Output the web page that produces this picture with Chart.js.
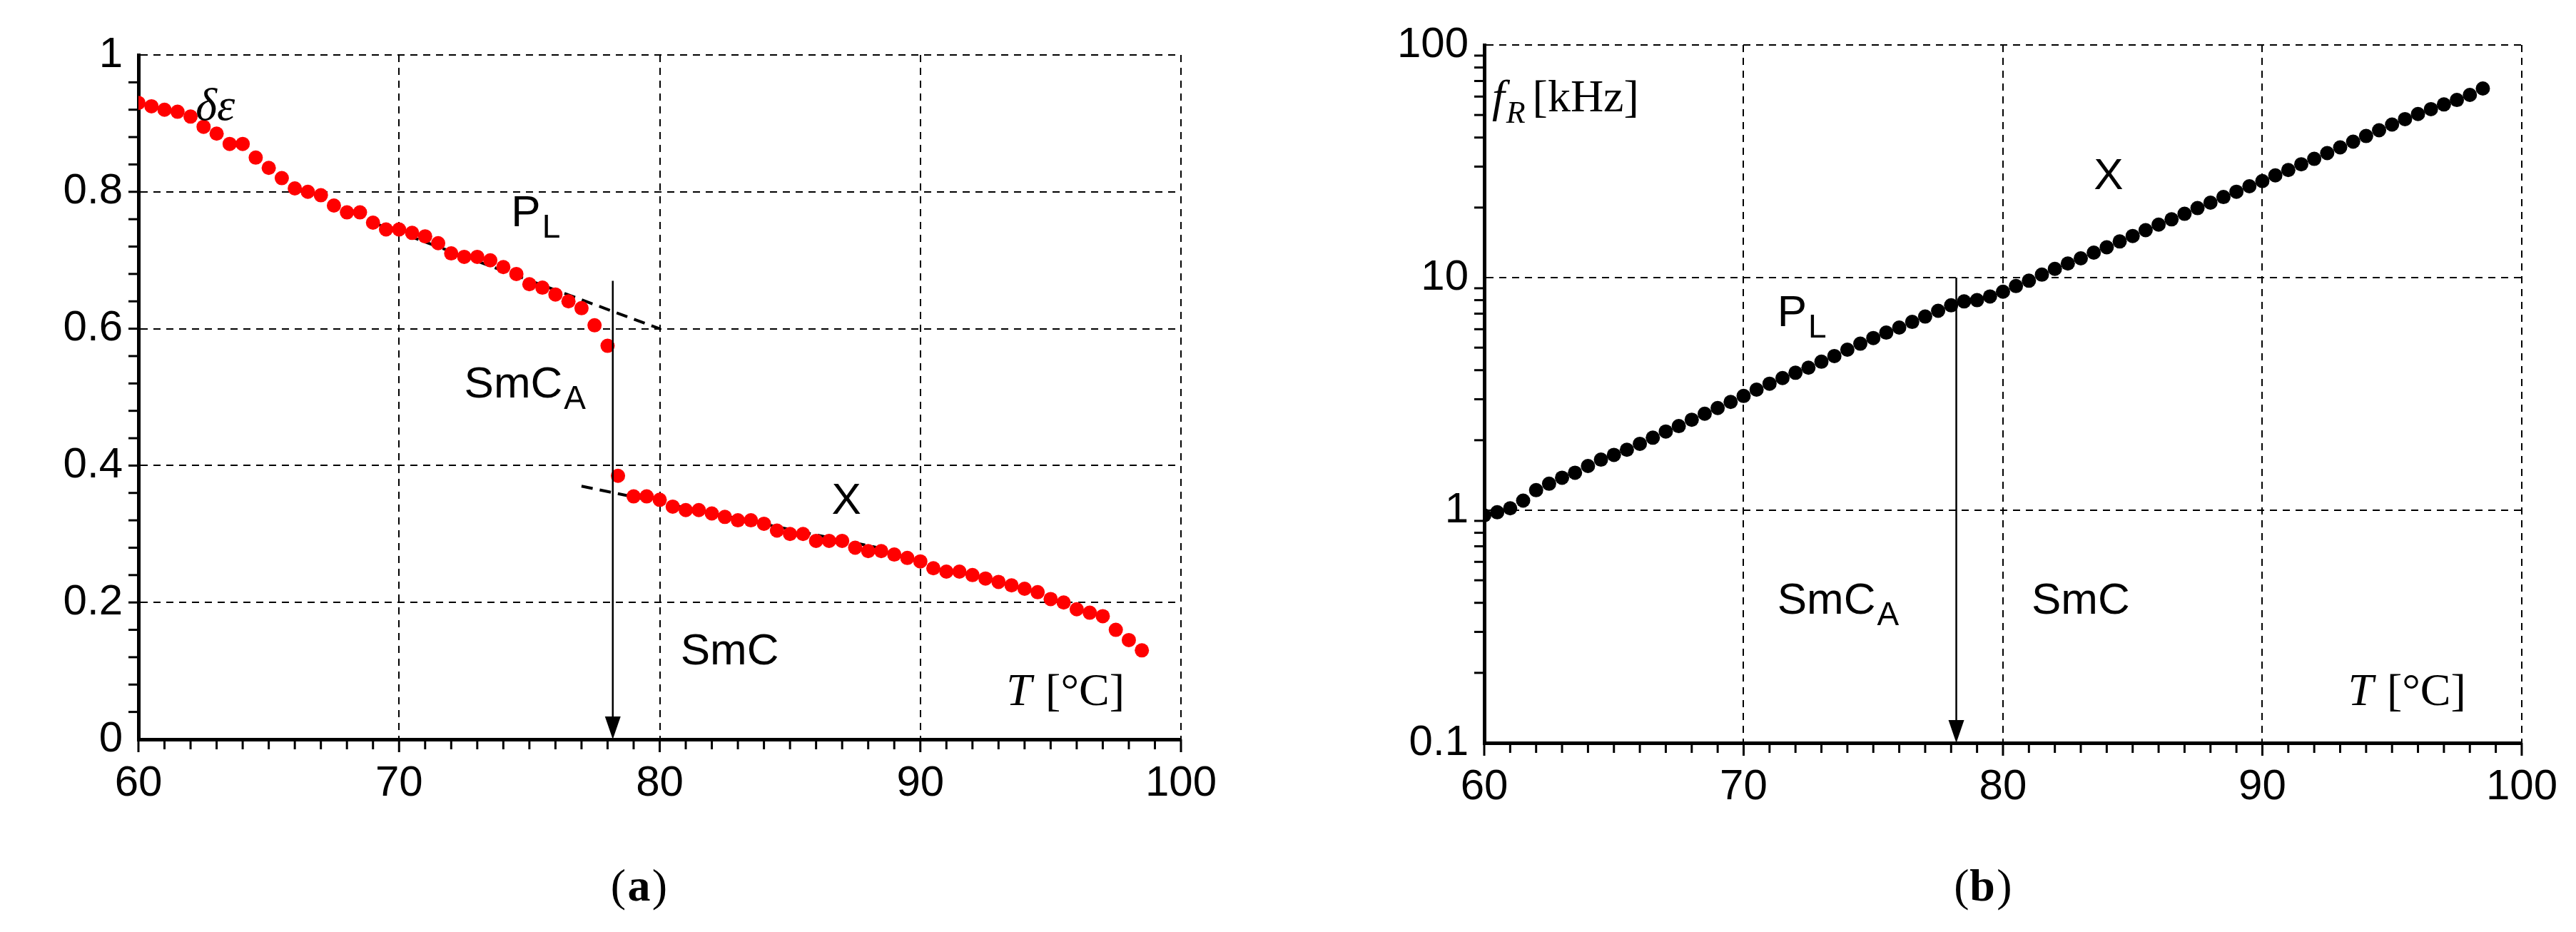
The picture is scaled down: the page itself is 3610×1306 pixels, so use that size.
<!DOCTYPE html>
<html><head><meta charset="utf-8">
<script src="https://cdn.jsdelivr.net/npm/chart.js@4"></script>
<style>html,body{margin:0;padding:0;background:#fff;width:3610px;height:1306px;overflow:hidden}
.c{position:absolute;top:0;height:1306px}</style></head>
<body>
<div class="c" style="left:0;width:1805px"><canvas id="a"></canvas></div>
<div class="c" style="left:1805px;width:1805px"><canvas id="b"></canvas></div>
<script>
const tempA=[60,60.5,61,61.5,62,62.5,63,63.5,64,64.5,65,65.5,66,66.5,67,67.5,68,68.5,69,69.5,70,70.5,71,71.5,72,72.5,73,73.5,74,74.5,75,75.5,76,76.5,77,77.5,78,78.4,79,79.5,80,80.5,81,81.5,82,82.5,83,83.5,84,84.5,85,85.5,86,86.5,87,87.5,88,88.5,89,89.5,90,90.5,91,91.5,92,92.5,93,93.5,94,94.5,95,95.5,96,96.5,97,97.5,98,98.5];
const deltaEps=[0.93,0.925,0.92,0.917,0.91,0.895,0.885,0.87,0.87,0.85,0.835,0.82,0.805,0.80,0.795,0.78,0.77,0.77,0.755,0.745,0.745,0.74,0.735,0.725,0.71,0.705,0.705,0.70,0.69,0.68,0.665,0.66,0.65,0.64,0.63,0.605,0.575,0.385,0.355,0.355,0.35,0.34,0.335,0.335,0.33,0.325,0.32,0.32,0.315,0.305,0.30,0.30,0.29,0.29,0.29,0.28,0.275,0.275,0.27,0.265,0.26,0.25,0.245,0.245,0.24,0.235,0.23,0.225,0.22,0.215,0.205,0.20,0.19,0.185,0.18,0.16,0.145,0.13];
const tempB=[60,60.5,61,61.5,62,62.5,63,63.5,64,64.5,65,65.5,66,66.5,67,67.5,68,68.5,69,69.5,70,70.5,71,71.5,72,72.5,73,73.5,74,74.5,75,75.5,76,76.5,77,77.5,78,78.5,79,79.5,80,80.5,81,81.5,82,82.5,83,83.5,84,84.5,85,85.5,86,86.5,87,87.5,88,88.5,89,89.5,90,90.5,91,91.5,92,92.5,93,93.5,94,94.5,95,95.5,96,96.5,97,97.5,98,98.5];
const freqR=[0.95,0.98,1.02,1.1,1.22,1.3,1.38,1.45,1.55,1.65,1.73,1.82,1.93,2.05,2.18,2.3,2.45,2.6,2.75,2.92,3.1,3.3,3.5,3.7,3.9,4.1,4.35,4.6,4.9,5.2,5.5,5.8,6.1,6.45,6.8,7.2,7.6,7.9,8.0,8.3,8.7,9.2,9.7,10.3,10.9,11.5,12.1,12.8,13.5,14.3,15.1,16.0,16.9,17.8,18.8,19.9,21.0,22.2,23.4,24.7,26.0,27.5,29.0,30.7,32.4,34.3,36.3,38.4,40.6,43.0,45.5,48.0,50.5,53,55.5,58,61,65];
const fitPL=[{x:69,y:0.755},{x:80,y:0.6}];
const fitX=[{x:77,y:0.37},{x:89,y:0.275}];
const xTicks=[60,70,80,90,100];
const yTicksA=[0,0.2,0.4,0.6,0.8,1];
const yTicksB=[0.1,1,10,100];
const transitionT=78.2;

const SANS='"Liberation Sans", Arial, sans-serif';
const SERIF='"Liberation Serif", "DejaVu Serif", serif';

function deco(opts){return {id:'deco',afterDraw(ch){
  const c=ch.ctx,x=ch.scales.x,y=ch.scales.y,a=ch.chartArea;
  c.save();c.strokeStyle='#000';c.lineWidth=3;
  // minor ticks
  for(let v=60;v<=100;v+=1){const px=x.getPixelForValue(v);c.beginPath();c.moveTo(px,a.bottom);c.lineTo(px,a.bottom+(v%10===0?18:14));c.stroke();}
  opts.yMinor.forEach(v=>{const py=y.getPixelForValue(v);c.beginPath();c.moveTo(a.left,py);c.lineTo(a.left-14,py);c.stroke();});
  // arrow
  const ax=x.getPixelForValue(transitionT),y0=y.getPixelForValue(opts.arrowTop),y1=a.bottom;
  c.lineWidth=2.5;c.beginPath();c.moveTo(ax,y0);c.lineTo(ax,y1-30);c.stroke();
  c.fillStyle='#000';c.beginPath();c.moveTo(ax,y1);c.lineTo(ax-11,y1-32);c.lineTo(ax+11,y1-32);c.closePath();c.fill();
  // texts
  c.fillStyle='#000';c.textBaseline='alphabetic';
  opts.texts.forEach(t=>{
    const px=x.getPixelForValue(t.x),py=y.getPixelForValue(t.y);
    c.font=(t.f||('62px '+SANS));c.textAlign='left';c.fillText(t.s,px,py);
    if(t.sub){const w=c.measureText(t.s).width;c.font=(t.sf||('46px '+SANS));c.fillText(t.sub,px+w+2,py+16);
      if(t.rest){const w2=c.measureText(t.sub).width;c.font=t.rf;c.fillText(t.rest,px+w+w2+12,py);}}
  });
  c.font='bold 0px serif';
  c.font='64px '+SERIF;c.textAlign='center';
  const lx=(a.left+a.right)/2-30;
  c.fillText('(',lx-28,1262);c.fillText(')',lx+30+(opts.lab==='b'?2:0),1262);
  c.font='bold 64px '+SERIF;c.fillText(opts.lab,lx+1,1262);
  c.restore();}};}

function makeChart(id,cfg){
  const logY=cfg.logY;
  return new Chart(document.getElementById(id),{
    type:'scatter',
    data:{datasets:cfg.datasets},
    options:{responsive:true,maintainAspectRatio:false,animation:false,
      layout:{padding:cfg.pad},
      plugins:{legend:{display:false},tooltip:{enabled:false}},
      scales:{
        x:{type:'linear',min:60,max:100,afterBuildTicks(s){s.ticks=xTicks.map(v=>({value:v}));},
          afterFit(s){s.height=100;},
          ticks:{font:{family:SANS,size:60},color:'#000',padding:26},
          grid:{color:'#000',lineWidth:2,drawTicks:false,tickBorderDash:[10,8]},
          border:{display:true,color:'#000',width:5,dash:[10,8]}},
        y:{type:logY?'logarithmic':'linear',min:logY?0.1:0,max:logY?100:1,
          afterBuildTicks(s){s.ticks=cfg.yTicks.map(v=>({value:v}));},
          afterFit(s){s.width=cfg.yw;},
          ticks:{font:{family:SANS,size:60},color:'#000',padding:22,callback:v=>String(v)},
          grid:{color:'#000',lineWidth:2,drawTicks:false},
          border:{display:true,color:'#000',width:5,dash:[10,8]}}
      }},
    plugins:[{id:'dash',beforeDraw(ch){}},cfg.plugin]
  });
}
// make grid dashed via borderDash
Chart.defaults.scale.grid.borderDash=[10,8];

const minorA=[];for(let i=1;i<25;i++){minorA.push(i*0.04);}
const minorB=[];[0.1,1,10].forEach(d=>{for(let k=2;k<=9;k++)minorB.push(d*k);});

const ca=makeChart('a',{yTicks:yTicksA,yw:194,pad:{left:0,right:150,top:77,bottom:170},
 datasets:[
  {data:tempA.map((t,i)=>({x:t,y:deltaEps[i]})),pointRadius:10,pointBackgroundColor:'#f00',pointBorderWidth:0,showLine:false},
  {data:fitPL,showLine:true,borderColor:'#000',borderWidth:4,borderDash:[16,10],pointRadius:0},
  {data:fitX,showLine:true,borderColor:'#000',borderWidth:4,borderDash:[16,10],pointRadius:0}],
 plugin:deco({lab:'a',yMinor:minorA,arrowTop:0.67,texts:[
  {s:'δε',x:62.2,y:0.905,f:'italic 64px '+SERIF},
  {s:'P',x:74.3,y:0.75,sub:'L'},
  {s:'SmC',x:72.5,y:0.5,sub:'A'},
  {s:'X',x:86.6,y:0.33},
  {s:'SmC',x:80.8,y:0.11},
  {s:'T',x:93.3,y:0.05,f:'italic 64px '+SERIF},
  {s:'[°C]',x:94.8,y:0.05,f:'64px '+SERIF}]})});
Chart.defaults.scale.grid.borderDash=[10,8];
const cb=makeChart('b',{logY:true,yTicks:yTicksB,yw:275,pad:{left:0,right:75,top:63,bottom:165},
 datasets:[
  {data:tempB.map((t,i)=>({x:t,y:freqR[i]})),pointRadius:10,pointBackgroundColor:'#000',pointBorderWidth:0,showLine:false}],
 plugin:deco({lab:'b',yMinor:minorB,arrowTop:10,texts:[
  {s:'f',x:60.3,y:52,f:'italic 64px '+SERIF,sub:'R',sf:'italic 44px '+SERIF,rest:'[kHz]',rf:'64px '+SERIF},
  {s:'X',x:83.5,y:24},
  {s:'P',x:71.3,y:6.2,sub:'L'},
  {s:'SmC',x:71.3,y:0.36,sub:'A'},
  {s:'SmC',x:81.1,y:0.36},
  {s:'T',x:93.3,y:0.145,f:'italic 64px '+SERIF},
  {s:'[°C]',x:94.8,y:0.145,f:'64px '+SERIF}]})});
</script></body></html>
